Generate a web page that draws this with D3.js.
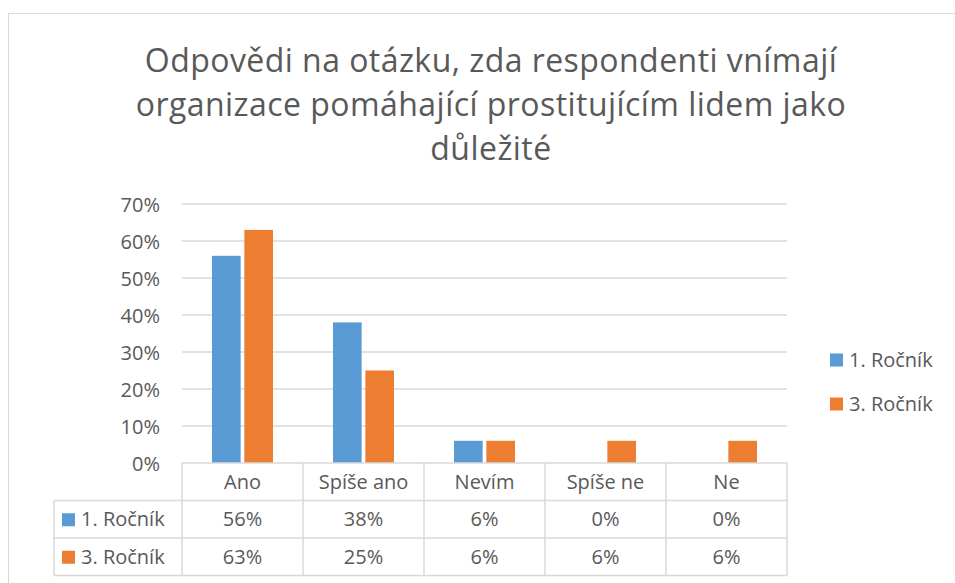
<!DOCTYPE html>
<html>
<head>
<meta charset="utf-8">
<script src="https://cdn.jsdelivr.net/npm/d3@7"></script>
<style>
    body { margin: 0; background: #fff; }
    svg text { font-family: "Open Sans", sans-serif; fill: #595959; }
</style>
</head>
<body>
<script>
const categories = ["Ano", "Spíše ano", "Nevím", "Spíše ne", "Ne"];
const seriesNames = ["1. Ročník", "3. Ročník"];
const rocnik1 = [56, 38, 6, 0, 0];
const rocnik3 = [63, 25, 6, 6, 6];
const yTicks = [0, 10, 20, 30, 40, 50, 60, 70];
const titleLines = ["Odpovědi na otázku, zda respondenti vnímají",
    "organizace pomáhající prostitujícím lidem jako", "důležité"];

const colors = ["#5b9bd5", "#ed7d31"];
const seriesValues = [rocnik1, rocnik3];

let width = 955, height = 583,
    plot = {left: 182, right: 787, top: 204, bottom: 463},
    rowH = 37.5,
    tableLeft = 54,
    labelSize = "20px";

let svg = d3.select("body").append("svg")
    .attr("width", width)
    .attr("height", height);

// chart frame
svg.append("rect")
    .attr("x", 8.5).attr("y", 13.5)
    .attr("width", 960).attr("height", 600)
    .attr("fill", "none")
    .attr("stroke", "#d9d9d9");

svg.append("g").selectAll("text")
    .data(titleLines)
    .enter().append("text")
        .attr("x", 491)
        .attr("y", (d, i) => 72 + i * 44)
        .attr("text-anchor", "middle")
        .style("font-size", "32px")
        .style("letter-spacing", "0.45px")
        .text(d => d);

let x = d3.scaleBand()
    .domain(categories)
    .range([plot.left, plot.right]);
let xInner = d3.scaleBand()
    .domain(seriesNames)
    .range([30, x.bandwidth() - 30])
    .paddingInner(0.115);
let y = d3.scaleLinear()
    .domain([0, 70])
    .range([plot.bottom, plot.top]);

// gridlines
svg.append("g").selectAll("line")
    .data(yTicks.filter(d => d > 0))
    .enter().append("line")
        .attr("x1", plot.left).attr("x2", plot.right)
        .attr("y1", d => y(d)).attr("y2", d => y(d))
        .attr("stroke", "#d9d9d9")
        .attr("stroke-width", 1.3);

let yAxis = d3.axisLeft(y).tickValues(yTicks).tickFormat(d => d + "%").tickSize(0).tickPadding(0);
let yG = svg.append("g")
    .attr("transform", "translate(160,0)")
    .call(yAxis);
yG.select(".domain").remove();
yG.selectAll("text")
    .style("font-size", labelSize)
    .style("font-family", "'Open Sans', sans-serif")
    .attr("fill", "#595959")
    .attr("dy", "0.35em");

// bars
seriesNames.forEach((s, si) => {
    svg.append("g").selectAll("rect")
        .data(seriesValues[si])
        .enter().append("rect")
            .attr("x", (d, i) => x(categories[i]) + xInner(s))
            .attr("y", d => y(d))
            .attr("width", xInner.bandwidth())
            .attr("height", d => y(0) - y(d))
            .attr("fill", colors[si]);
});

// data table
let tbl = svg.append("g")
    .attr("stroke", "#d9d9d9")
    .attr("stroke-width", 1.5);
let rowsY = [plot.bottom, plot.bottom + rowH, plot.bottom + 2 * rowH, plot.bottom + 3 * rowH];
rowsY.forEach((ry, i) => {
    tbl.append("line")
        .attr("x1", i === 0 ? plot.left : tableLeft).attr("x2", plot.right)
        .attr("y1", ry).attr("y2", ry);
});
let colX = categories.map(c => x(c)).concat([plot.right]);
colX.forEach(cx => {
    tbl.append("line")
        .attr("x1", cx).attr("x2", cx)
        .attr("y1", rowsY[0]).attr("y2", rowsY[3]);
});
tbl.append("line")
    .attr("x1", tableLeft).attr("x2", tableLeft)
    .attr("y1", rowsY[1]).attr("y2", rowsY[3]);

svg.append("g").selectAll("text")
    .data(categories)
    .enter().append("text")
        .attr("x", d => x(d) + x.bandwidth() / 2)
        .attr("y", rowsY[0] + rowH / 2)
        .attr("dy", "0.35em")
        .attr("text-anchor", "middle")
        .style("font-size", labelSize)
        .text(d => d);

seriesNames.forEach((s, si) => {
    let ry = rowsY[si + 1] + rowH / 2;
    svg.append("rect")
        .attr("x", 62).attr("y", ry - 6)
        .attr("width", 13).attr("height", 13)
        .attr("fill", colors[si]);
    svg.append("text")
        .attr("x", 81).attr("y", ry)
        .attr("dy", "0.35em")
        .style("font-size", labelSize)
        .text(s);
    svg.append("g").selectAll("text")
        .data(seriesValues[si])
        .enter().append("text")
            .attr("x", (d, i) => x(categories[i]) + x.bandwidth() / 2)
            .attr("y", ry)
            .attr("dy", "0.35em")
            .attr("text-anchor", "middle")
            .style("font-size", labelSize)
            .text(d => d + "%");
});

// legend
let legend = svg.append("g").selectAll("g")
    .data(seriesNames)
    .enter().append("g")
        .attr("transform", (d, i) => "translate(830," + (360 + i * 44) + ")");
legend.append("rect")
    .attr("y", -6.5).attr("width", 13).attr("height", 13)
    .attr("fill", (d, i) => colors[i]);
legend.append("text")
    .attr("x", 19).attr("dy", "0.35em")
    .style("font-size", labelSize)
    .text(d => d);
</script>
</body>
</html>
